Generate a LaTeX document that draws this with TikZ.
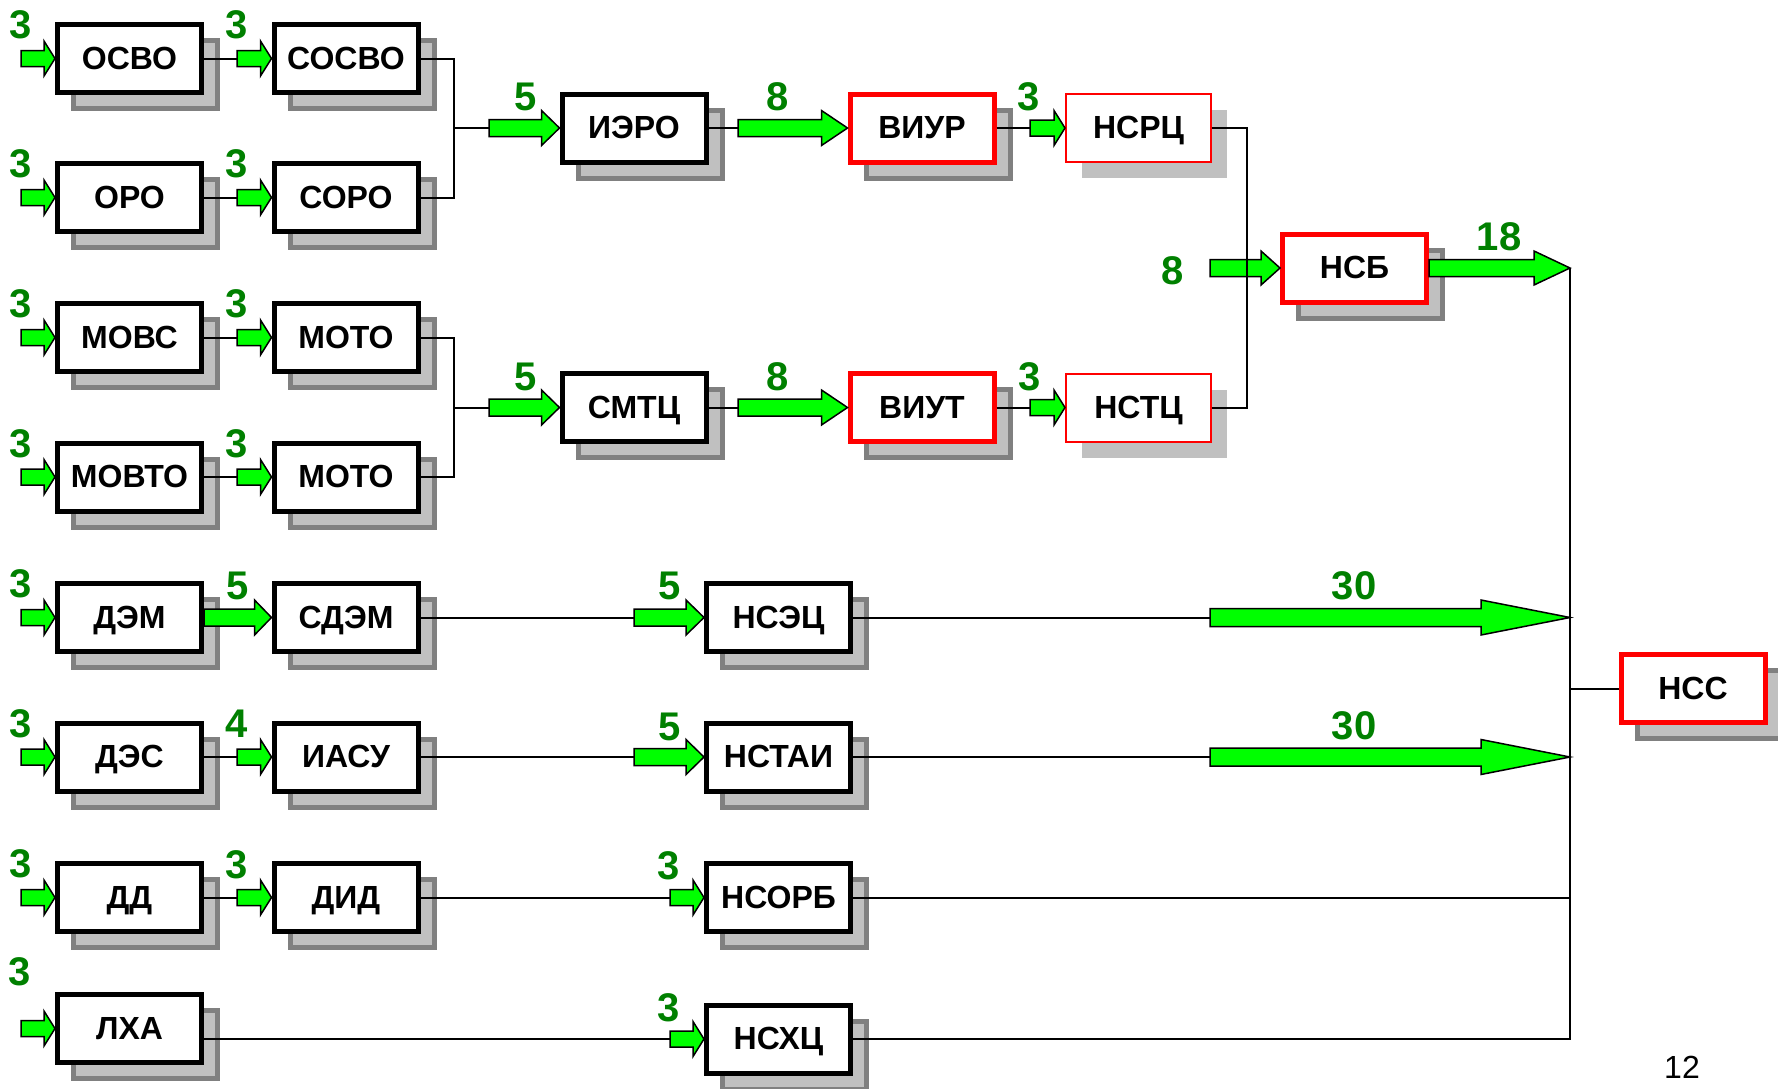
\documentclass[tikz,border=0pt]{standalone}
\usepackage{fontspec}
\setmainfont{Liberation Sans}
\usetikzlibrary{calc}
\definecolor{agreen}{HTML}{00FF00}
\definecolor{lgreen}{HTML}{008000}
\definecolor{shfill}{HTML}{C0C0C0}
\definecolor{shdraw}{HTML}{808080}
\newcommand\garrow[5]{\draw[garrowstyle] let \p1=(#1), \p2=(#2) in
 (\x1,\y2+#3pt) -- (\x2-#5pt,\y2+#3pt) -- (\x2-#5pt,\y2+#4pt) -- (\x2,\y2) -- (\x2-#5pt,\y2-#4pt) -- (\x2-#5pt,\y2-#3pt) -- (\x1,\y2-#3pt) -- cycle;}
\begin{document}
\begin{tikzpicture}[x=1pt,y=-1pt,
  box/.style={rectangle, draw=black, line width=5pt, fill=white, minimum width=144pt, minimum height=68pt, inner sep=0pt, text height=21pt, text depth=0pt, font=\fontsize{32}{36}\selectfont\bfseries,
    preaction={draw=shdraw, fill=shfill, line width=5pt, transform canvas={xshift=16pt,yshift=-16pt}}},
  redbox/.style={box, draw=red},
  thinbox/.style={rectangle, draw=red, line width=2pt, fill=white, minimum width=145pt, minimum height=68pt, inner sep=0pt, text height=21pt, text depth=0pt, font=\fontsize{32}{36}\selectfont\bfseries,
    preaction={draw=none, fill=shfill, transform canvas={xshift=16pt,yshift=-16pt}}},
  lab/.style={inner sep=0pt, text=lgreen, text height=28.6pt, text depth=0pt, font=\fontsize{40}{44}\selectfont\bfseries},
  conn/.style={draw=black, line width=2pt},
  garrowstyle/.style={fill=agreen, draw=black, line width=1.5pt}]
\clip (0,0) rectangle (1778,1088);
% column 1
\node[box] (osvo) at (129.5,58.5) {ОСВО};
\node[box] (oro) at (129.5,197.5) {ОРО};
\node[box] (movs) at (129.5,337.5) {МОВС};
\node[box] (movto) at (129.5,477) {МОВТО};
\node[box] (dem) at (129.5,617.5) {ДЭМ};
\node[box] (des) at (129.5,757) {ДЭС};
\node[box] (dd) at (129.5,897.5) {ДД};
\node[box] (lxa) at (129.5,1028.5) {ЛХА};
% column 2
\node[box] (sosvo) at (346,58.5) {СОСВО};
\node[box] (soro) at (346,197.5) {СОРО};
\node[box] (motoa) at (346,337.5) {МОТО};
\node[box] (motob) at (346,477) {МОТО};
\node[box] (sdem) at (346,617.5) {СДЭМ};
\node[box] (iasu) at (346,757) {ИАСУ};
\node[box] (did) at (346,897.5) {ДИД};
% middle
\node[box] (iero) at (634,128) {ИЭРО};
\node[box] (smtc) at (634,407.5) {СМТЦ};
\node[redbox] (viur) at (922,128) {ВИУР};
\node[redbox] (viut) at (922,407.5) {ВИУТ};
\node[thinbox] (nsrc) at (1138.5,128) {НСРЦ};
\node[thinbox] (nstc) at (1138.5,407.5) {НСТЦ};
\node[redbox] (nsb) at (1354.5,268) {НСБ};
\node[redbox] (nss) at (1693,688.5) {НСС};
\node[box] (nsec) at (778.5,617.5) {НСЭЦ};
\node[box] (nstai) at (778.5,757) {НСТАИ};
\node[box] (nsorb) at (778.5,897.5) {НСОРБ};
\node[box] (nshc) at (778.5,1039) {НСХЦ};
% coordinates
\coordinate (j1) at (454,128);
\coordinate (j2) at (454,407.5);
\coordinate (j3) at (1247,268);
\coordinate (bt) at (1570,268);
\coordinate (bb) at (1570,1039);
\coordinate (bn) at (1570,688.5);
\coordinate (ina) at (21,58.5);
\coordinate (inb) at (21,197.5);
\coordinate (inc) at (21,337.5);
\coordinate (ind) at (21,477);
\coordinate (ine) at (21,617.5);
\coordinate (inf) at (21,757);
\coordinate (ing) at (21,897.5);
\coordinate (inh) at (21,1028.5);
\coordinate (sa) at (237,58.5);
\coordinate (sb) at (237,197.5);
\coordinate (sc) at (237,337.5);
\coordinate (sd) at (237,477);
\coordinate (sf) at (237,757);
\coordinate (sg) at (237,897.5);
\coordinate (siero) at (489,128);
\coordinate (ssmtc) at (489,407.5);
\coordinate (sviur) at (738,128);
\coordinate (sviut) at (738,407.5);
\coordinate (snsrc) at (1030,128);
\coordinate (snstc) at (1030,407.5);
\coordinate (snsec) at (634,617.5);
\coordinate (snstai) at (634,757);
\coordinate (snsorb) at (670,897.5);
\coordinate (snshc) at (670,1039);
\coordinate (snsb) at (1210,268);
\coordinate (sta) at (1210,617.5);
\coordinate (eta) at (1570,617.5);
\coordinate (stb) at (1210,757);
\coordinate (etb) at (1570,757);
% thin lines
\draw[conn] (osvo.east) -- (sa);
\draw[conn] (oro.east) -- (sb);
\draw[conn] (movs.east) -- (sc);
\draw[conn] (movto.east) -- (sd);
\draw[conn] (des.east) -- (sf);
\draw[conn] (dd.east) -- (sg);
\draw[conn] (sosvo.east) -| (j1) |- (soro.east);
\draw[conn] (j1) -- (siero);
\draw[conn] (motoa.east) -| (j2) |- (motob.east);
\draw[conn] (j2) -- (ssmtc);
\draw[conn] (iero.east) -- (sviur);
\draw[conn] (viur.east) -- (snsrc);
\draw[conn] (smtc.east) -- (sviut);
\draw[conn] (viut.east) -- (snstc);
\draw[conn] (sdem.east) -- (snsec);
\draw[conn] (iasu.east) -- (snstai);
\draw[conn] (did.east) -- (snsorb);
\draw[conn] (lxa.east |- snshc) -- (snshc);
\draw[conn] (nsec.east) -- (sta);
\draw[conn] (nstai.east) -- (stb);
\draw[conn] (nsorb.east) -- (nsorb.east -| bb);
\draw[conn] (nshc.east) -- (bb) -- (bt);
\draw[conn] (bn) -- (nss.west);
% green arrows
\garrow{ina}{osvo.west}{8}{17.5}{11}
\garrow{inb}{oro.west}{8}{17.5}{11}
\garrow{inc}{movs.west}{8}{17.5}{11}
\garrow{ind}{movto.west}{8}{17.5}{11}
\garrow{ine}{dem.west}{8}{17.5}{11}
\garrow{inf}{des.west}{8}{17.5}{11}
\garrow{ing}{dd.west}{8}{17.5}{11}
\garrow{inh}{lxa.west}{8}{17.5}{11}
\garrow{sa}{sosvo.west}{8}{17.5}{11}
\garrow{sb}{soro.west}{8}{17.5}{11}
\garrow{sc}{motoa.west}{8}{17.5}{11}
\garrow{sd}{motob.west}{8}{17.5}{11}
\garrow{dem.east}{sdem.west}{8.5}{17.5}{17}
\garrow{sf}{iasu.west}{8}{17.5}{11}
\garrow{sg}{did.west}{8}{17.5}{11}
\garrow{siero}{iero.west}{8.5}{17.5}{18}
\garrow{ssmtc}{smtc.west}{8.5}{17.5}{18}
\garrow{sviur}{viur.west}{8.5}{17.5}{26}
\garrow{sviut}{viut.west}{8.5}{17.5}{26}
\garrow{snsrc}{nsrc.west}{8}{17.5}{11}
\garrow{snstc}{nstc.west}{8}{17.5}{11}
\garrow{snsec}{nsec.west}{8.5}{17.5}{18}
\garrow{snstai}{nstai.west}{8.5}{17.5}{18}
\garrow{snsorb}{nsorb.west}{8}{17.5}{11}
\garrow{snshc}{nshc.west}{8}{17.5}{11}
\garrow{snsb}{nsb.west}{8.5}{17}{19}
\garrow{nsb.east}{bt}{8.5}{17}{36}
\garrow{sta}{eta}{9}{17.5}{89}
\garrow{stb}{etb}{9}{17.5}{89}
% vertical junction over the arrow
\draw[conn] (nsrc.east) -| (j3) |- (nstc.east);
% labels
\node[lab] (la) at (21,24) {3};
\node[lab] (lb) at (21,163.5) {3};
\node[lab] (lc) at (21,303.5) {3};
\node[lab] (ld) at (21,443) {3};
\node[lab] (le) at (21,583.5) {3};
\node[lab] (lf) at (21,723) {3};
\node[lab] (lg) at (21,863.5) {3};
\node[lab] (lh) at (20,971) {3};
\node[lab] (ma) at (237,24) {3};
\node[lab] (mb) at (237,163.5) {3};
\node[lab] (mc) at (237,303.5) {3};
\node[lab] (md) at (237,443) {3};
\node[lab] (me) at (238,585) {5};
\node[lab] (mf) at (237,723) {4};
\node[lab] (mg) at (237,864) {3};
\node[lab] (qa) at (526,96) {5};
\node[lab] (qb) at (526,376) {5};
\node[lab] (qc) at (778,96) {8};
\node[lab] (qd) at (778,376) {8};
\node[lab] (qe) at (1029,96) {3};
\node[lab] (qf) at (1030,376) {3};
\node[lab] (qg) at (1173,270) {8};
\node[lab] (qh) at (1499,236) {18};
\node[lab] (qi) at (1354,585) {30};
\node[lab] (qj) at (1354,725) {30};
\node[lab] (qk) at (670,585) {5};
\node[lab] (ql) at (670,726) {5};
\node[lab] (qm) at (669,865) {3};
\node[lab] (qn) at (669,1007) {3};
\node[anchor=base, inner sep=0pt, font=\fontsize{32}{36}\selectfont] (pg) at (1682,1078) {12};
\end{tikzpicture}
\end{document}
